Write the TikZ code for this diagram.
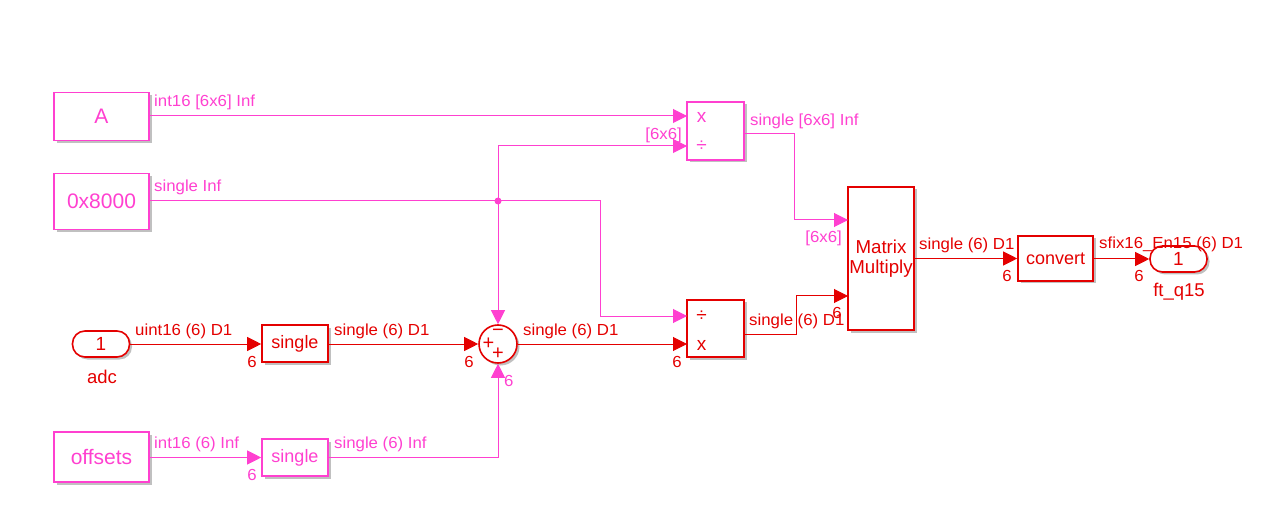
\documentclass[tikz,border=0pt]{standalone}
\usepackage{fontspec}
\setmainfont{Liberation Sans}
\newfontfamily\lblfont{Liberation Sans}[FakeStretch=1.05]
\usetikzlibrary{arrows.meta,shadows}
\definecolor{pk}{RGB}{255,64,208}
\definecolor{rd}{RGB}{228,0,0}
\newcommand{\fsz}[1]{\fontsize{#1}{#1}\selectfont}
\begin{document}
\begin{tikzpicture}[x=1pt,y=-1pt,
  blk/.style={draw, line width=1.6pt, fill=white, inner sep=0pt,
    drop shadow={shadow xshift=2.5pt,shadow yshift=-2.5pt,fill=black!45,opacity=0.55}},
  pkblk/.style={blk, draw=pk, text=pk},
  rdblk/.style={blk, draw=rd, text=rd},
  pill/.style={rounded corners=12.5pt, minimum width=57, minimum height=26},
  sig/.style={line width=1pt, -{Triangle[length=14pt,width=14pt]}},
  pks/.style={sig, draw=pk},
  rds/.style={sig, draw=rd},
  lbl/.style={font=\lblfont\fsz{16}, inner sep=0pt, anchor=base west},
  dim/.style={font=\lblfont\fsz{16}, inner sep=0pt, anchor=base east},
  sgn/.style={font=\fsz{20}, inner sep=0pt, text=rd},
]
\useasboundingbox (0,0) rectangle (1273,526);

% blocks
\node[pkblk, minimum width=95, minimum height=48, font=\fsz{21}] (A) at (101.5,116.5) {A};
\node[pkblk, minimum width=95, minimum height=56, font=\fsz{21}] (K) at (101.5,201.5) {0x8000};
\node[pkblk, minimum width=95, minimum height=50, font=\fsz{21}] (off) at (101.5,457) {offsets};
\node[rdblk, pill, font=\fsz{19}] (adc) at (101,344) {1};
\node[text=rd, font=\fsz{18.5}, inner sep=0pt] (adcl) at (102,377) {adc};
\node[rdblk, minimum width=66, minimum height=37, font=\fsz{18}] (s1) at (295,343.5) {single};
\node[pkblk, minimum width=66, minimum height=37, font=\fsz{18}] (s2) at (295,457.5) {single};
\node[rdblk, circle, minimum size=38] (S) at (498,344) {};
\node[sgn] (sm) at (498,332.5) {−};
\node[sgn] (sp1) at (488.5,344) {+};
\node[sgn] (sp2) at (498,354) {+};
\node[pkblk, minimum width=57, minimum height=58] (P1) at (715.5,131) {};
\node[sgn, text=pk, font=\fsz{19}] (P1a) at (701.5,117) {x};
\node[sgn, text=pk, font=\fsz{19}] (P1b) at (701.5,146) {÷};
\node[rdblk, minimum width=57, minimum height=57] (P2) at (715.5,328.5) {};
\node[sgn, font=\fsz{19}] (P2a) at (701.5,316) {÷};
\node[sgn, font=\fsz{19}] (P2b) at (701.5,345) {x};
\node[rdblk, minimum width=66, minimum height=143, font=\fsz{18.7}, align=center] (MM) at (881,258.5) {Matrix\\[1pt]Multiply};
\node[rdblk, minimum width=75, minimum height=45, font=\fsz{18}] (cv) at (1055.5,258.5) {convert};
\node[rdblk, pill, font=\fsz{19}] (out) at (1178.5,259) {1};
\node[text=rd, font=\fsz{18.5}, inner sep=0pt] (outl) at (1179,292) {ft\_q15};

% ports
\coordinate (P1i1) at (687,116);
\coordinate (P1i2) at (687,146);
\coordinate (P1o) at (744,134);
\coordinate (P2i1) at (687,316);
\coordinate (P2i2) at (687,344);
\coordinate (P2o) at (744,334);
\coordinate (MMi1) at (848,220);
\coordinate (MMi2) at (848,296);
\coordinate (br) at (498,201);

% connectors
\draw[pks] (A.east |- P1i1) -- (P1i1);
\draw[pks] (K.east |- br) -- (600,201) |- (P2i1);
\draw[pks] (br) |- (P1i2);
\draw[pks] (br) -- (S.north);
\fill[pk] (br) circle (3.5);
\draw[pks] (P1o) -- (794,134) |- (MMi1);
\draw[rds] (P2o) -- (796,334) |- (MMi2);
\draw[rds] (MM.east |- cv) -- (cv.west);
\draw[rds] (cv.east |- out) -- (out.west);
\draw[rds] (adc.east) -- (adc.east -| s1.west);
\draw[rds] (s1.east |- S) -- (S.west);
\draw[rds] (S.east) -- (P2i2);
\draw[pks] (off.east |- s2) -- (s2.west);
\draw[pks] (s2.east) -| (S.south);

% signal labels
\node[lbl, text=pk] (l1) at (154,107) {int16 [6x6] Inf};
\node[lbl, text=pk] (l2) at (154,192) {single Inf};
\node[lbl, text=pk] (l3) at (750,126) {single [6x6] Inf};
\node[dim, text=pk] (d1) at (682,140) {[6x6]};
\node[dim, text=pk] (d2) at (842,243) {[6x6]};
\node[lbl, text=rd] (l4) at (749,325) {single (6) D1};
\node[dim, text=rd] (d3) at (842,318) {6};
\node[lbl, text=rd] (l5) at (919,250) {single (6) D1};
\node[dim, text=rd] (d4) at (1012,282) {6};
\node[lbl, text=rd] (l6) at (1099,249) {sfix16\_En15 (6) D1};
\node[dim, text=rd] (d5) at (1144,282) {6};
\node[lbl, text=rd] (l7) at (135,335) {uint16 (6) D1};
\node[dim, text=rd] (d6) at (257,367) {6};
\node[lbl, text=rd] (l8) at (334,335) {single (6) D1};
\node[dim, text=rd] (d7) at (474,367) {6};
\node[lbl, text=rd] (l9) at (523,335) {single (6) D1};
\node[dim, text=rd] (d8) at (682,367) {6};
\node[lbl, text=pk] (l10) at (154,448) {int16 (6) Inf};
\node[dim, text=pk] (d9) at (257,480) {6};
\node[lbl, text=pk] (l11) at (334,448) {single (6) Inf};
\node[lbl, text=pk] (d10) at (504,386) {6};
\end{tikzpicture}
\end{document}
